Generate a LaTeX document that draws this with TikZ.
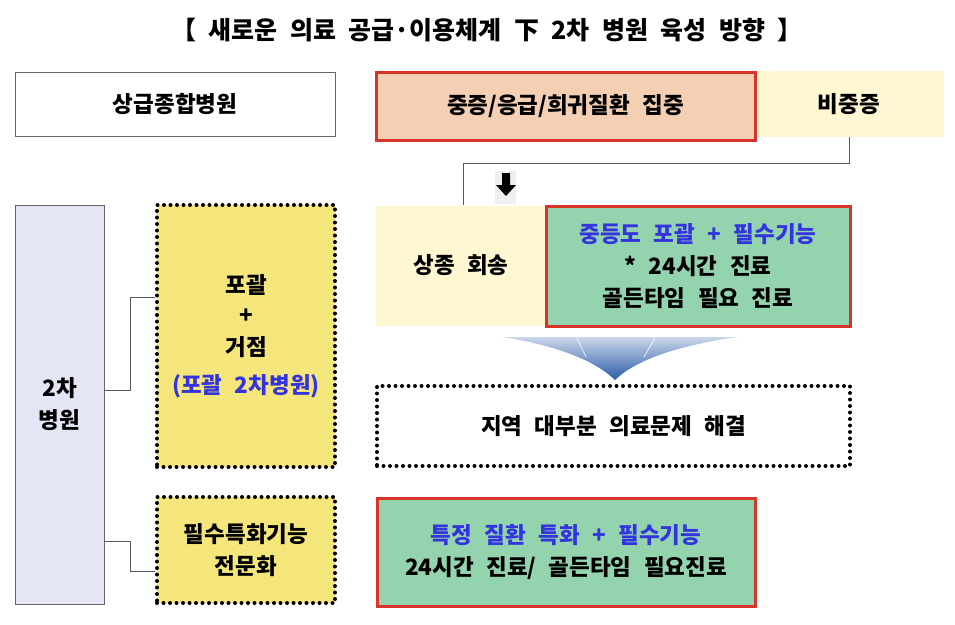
\documentclass[tikz,border=0pt]{standalone}
\usepackage{fontspec}
\setmainfont{Noto Sans CJK KR}
\definecolor{peach}{HTML}{F4CFB4}
\definecolor{cream}{HTML}{FFF6D2}
\definecolor{mint}{HTML}{93D4AF}
\definecolor{redline}{HTML}{D7352A}
\definecolor{lavender}{HTML}{E4E6F6}
\definecolor{goldbox}{HTML}{F5E67C}
\definecolor{bluetext}{HTML}{3434DE}
\definecolor{arrowblue}{HTML}{2B5CA8}
\newcommand{\boxfont}{\fontsize{22.5}{32}\selectfont\bfseries\spaceskip=0.55em\relax}
\newcommand{\titlefont}{\fontsize{25}{28}\selectfont\bfseries\spaceskip=0.5em\relax}
\begin{document}
\begin{tikzpicture}[x=1pt,y=-1pt,
  every node/.style={font=\boxfont, align=center, inner sep=0pt},
  plainbox/.style={draw=gray!80!black, line width=0.8pt, fill=white},
  redbox/.style={draw=redline, line width=3pt},
  dotbox/.style={draw=black, line width=4pt, dash pattern=on 0pt off 6.5pt, line cap=round},
  link/.style={draw=gray!70!black, line width=1pt}]
\useasboundingbox (0,0) rectangle (955,624);
% title
\node[font=\titlefont] (title) at (487,30) {【 새로운 의료 공급·이용체계 下 2차 병원 육성 방향 】};
% top row
\node[plainbox, minimum width=320pt, minimum height=64pt] (sanggeup) at (175,104) {상급종합병원};
\node[fill=cream, minimum width=190pt, minimum height=66pt] (bijung) at (849,104) {비중증};
\node[redbox, fill=peach, minimum width=379pt, minimum height=68pt] (jungjeung) at (565.5,106) {중증/응급/희귀질환 집중};
% middle right
\node[fill=cream, minimum width=170pt, minimum height=120pt] (hoesong) at (461,265.5) {상종 회송};
\node[redbox, fill=mint, minimum width=304pt, minimum height=120pt] (jungdeung) at (698,266)
  {\textcolor{bluetext}{중등도 포괄 + 필수기능}\\* 24시간 진료\\골든타임 필요 진료};
\coordinate (turn1) at (849,163);
\coordinate (turn2) at (463,163);
\draw[link] (bijung.south -| turn1) -- (turn1) -- (turn2) -- (hoesong.north -| turn2);
% small arrow
\fill[gray!12] (495,171) rectangle (516,204);
\fill[black] (502,173) -- (510,173) -- (510,185) -- (516,185) -- (506,196) -- (496,185) -- (502,185) -- cycle;
% big chevron
\shade[top color=arrowblue!25, middle color=arrowblue!70, bottom color=arrowblue]
  (503,337) .. controls (545,344) and (590,356) .. (615,380)
  .. controls (640,356) and (690,344) .. (737,337) -- cycle;
\draw[white, opacity=0.7, line width=1pt] (577,338) -- (586,357);
\draw[white, opacity=0.7, line width=1pt] (655,338) -- (644,357);
\node[dotbox, fill=white, minimum width=473pt, minimum height=80pt] (haegyeol) at (613.5,426) {지역 대부분 의료문제 해결};
% left column
\node[plainbox, fill=lavender, minimum width=89pt, minimum height=399pt] (icha) at (59.5,404.5) {2차\\병원};
\node[dotbox, fill=goldbox, minimum width=178pt, minimum height=262pt] (pogwal) at (246,336)
  {포괄\\[-2pt]+\\[0pt]거점\\[6pt]\textcolor{bluetext}{(포괄 2차병원)}};
\node[dotbox, fill=goldbox, minimum width=178pt, minimum height=106pt] (pilsu) at (246,550) {필수특화기능\\전문화};
\node[redbox, fill=mint, minimum width=378pt, minimum height=108pt] (teukjeong) at (566,552)
  {\textcolor{bluetext}{특정 질환 특화 + 필수기능}\\24시간 진료/ 골든타임 필요진료};
% connectors from 2nd hospital
\coordinate (elbowA) at (130,390);
\coordinate (elbowB) at (130,297);
\coordinate (elbowC) at (130,541);
\coordinate (elbowD) at (130,571);
\draw[link] (icha.east |- elbowA) -- (elbowA) -- (elbowB) -- (pogwal.west |- elbowB);
\draw[link] (icha.east |- elbowC) -- (elbowC) -- (elbowD) -- (pilsu.west |- elbowD);
\end{tikzpicture}
\end{document}
